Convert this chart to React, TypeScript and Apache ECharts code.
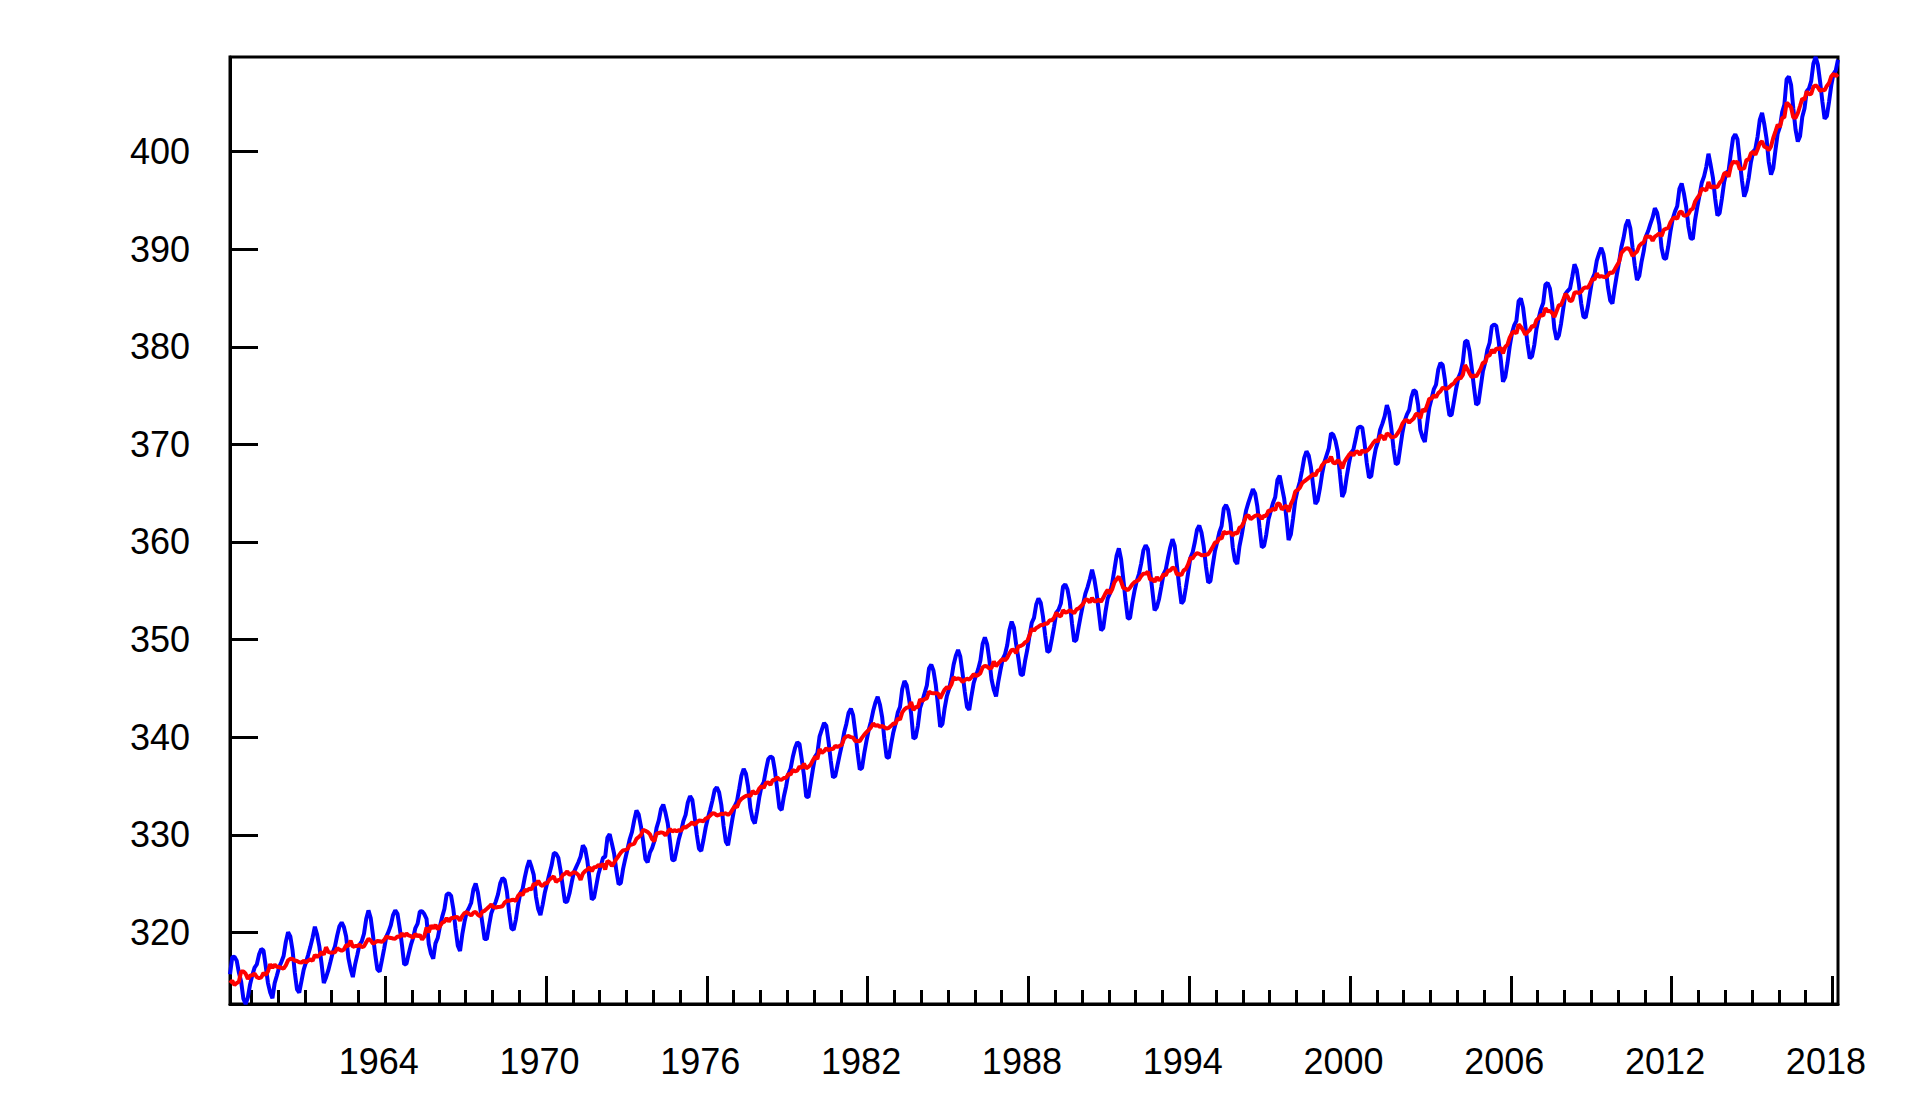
import React, { useEffect, useRef } from "react";
import * as echarts from "echarts";

// Mauna Loa monthly mean CO2 (ppm), starting March 1958
const startYear = 1958;
const startMonth = 3;

const mean1958_1969 = [
  315.71, 317.45, 317.5, 317.1, 315.86, 314.93, 313.2, 312.66, 313.33, 314.67,
  315.62, 316.38, 316.71, 317.72, 318.29, 318.15, 316.54, 314.8, 313.84, 313.26, 314.8, 315.58,
  316.43, 316.97, 317.58, 319.02, 320.03, 319.59, 318.18, 315.91, 314.16, 313.83, 315.0, 316.19,
  316.93, 317.7, 318.54, 319.48, 320.58, 319.77, 318.57, 316.79, 314.8, 315.38, 316.1, 317.01,
  317.94, 318.56, 319.68, 320.63, 321.01, 320.55, 319.58, 317.4, 316.26, 315.42, 316.69, 317.69,
  318.74, 319.08, 319.86, 321.39, 322.25, 321.47, 319.74, 317.77, 316.21, 315.99, 317.12, 318.31,
  319.57, 320.07, 320.73, 321.77, 322.25, 321.89, 320.44, 318.7, 316.7, 316.79, 317.79, 318.71,
  319.44, 320.44, 320.89, 322.13, 322.16, 321.87, 321.39, 318.81, 317.81, 317.3, 318.87, 319.42,
  320.62, 321.59, 322.39, 323.87, 324.01, 323.75, 322.39, 320.37, 318.64, 318.1, 319.79, 321.08,
  322.07, 322.5, 323.04, 324.42, 325.0, 324.09, 322.55, 320.92, 319.31, 319.31, 320.72, 321.96,
  322.57, 323.15, 323.89, 325.02, 325.57, 325.36, 324.14, 322.03, 320.41, 320.25, 321.31, 322.84,
  324.0, 324.42, 325.64, 326.66, 327.38, 326.7, 325.89, 323.67, 322.38, 321.78, 322.85, 324.12,
];
const mean1970_1979 = [
  325.03, 325.99, 326.87, 328.13, 328.07, 327.66, 326.35, 324.69, 323.1, 323.16, 323.98, 325.13,
  326.17, 326.68, 327.18, 327.78, 328.92, 328.57, 327.34, 325.46, 323.36, 323.57, 324.8, 326.01,
  326.77, 327.63, 327.75, 329.72, 330.07, 329.09, 328.05, 326.32, 324.93, 325.06, 326.5, 327.55,
  328.54, 329.56, 330.3, 331.5, 332.48, 332.07, 330.87, 329.31, 327.51, 327.18, 328.16, 328.64,
  329.35, 330.71, 331.48, 332.65, 333.09, 332.25, 331.18, 329.39, 327.43, 327.37, 328.46, 329.57,
  330.4, 331.4, 332.04, 333.31, 333.96, 333.59, 331.91, 330.06, 328.56, 328.34, 329.49, 330.76,
  331.75, 332.56, 333.5, 334.58, 334.87, 334.34, 333.05, 330.94, 329.3, 328.94, 330.31, 331.68,
  332.93, 333.42, 334.7, 336.07, 336.74, 336.27, 334.93, 332.75, 331.58, 331.16, 332.4, 333.85,
  334.97, 335.39, 336.64, 337.76, 338.01, 337.89, 336.54, 334.68, 332.76, 332.54, 333.92, 334.95,
  336.23, 336.76, 337.96, 338.89, 339.47, 339.29, 337.73, 336.09, 333.91, 333.86, 335.29, 336.73,
];
const mean1980_1989 = [
  338.01, 338.36, 340.08, 340.77, 341.46, 341.17, 339.56, 337.6, 335.88, 336.01, 337.1, 338.21,
  339.23, 340.47, 341.38, 342.51, 342.91, 342.25, 340.49, 338.43, 336.69, 336.85, 338.36, 339.61,
  340.75, 341.61, 342.7, 343.56, 344.13, 343.35, 342.06, 339.82, 337.97, 337.86, 339.26, 340.49,
  341.38, 342.52, 343.1, 344.94, 345.75, 345.32, 343.99, 342.39, 339.86, 339.99, 341.16, 342.99,
  343.7, 344.5, 345.28, 347.06, 347.43, 346.8, 345.39, 343.28, 341.07, 341.35, 342.98, 344.22,
  344.97, 345.99, 347.42, 348.35, 348.93, 348.25, 346.56, 344.67, 343.09, 342.8, 344.24, 345.56,
  346.29, 346.96, 347.86, 349.55, 350.21, 349.54, 347.94, 345.91, 344.86, 344.17, 345.66, 346.9,
  348.02, 348.47, 349.42, 350.99, 351.84, 351.25, 349.52, 348.1, 346.44, 346.36, 347.81, 348.96,
  350.43, 351.72, 352.22, 353.59, 354.22, 353.79, 352.39, 350.44, 348.72, 348.88, 350.07, 351.34,
  352.76, 353.07, 353.68, 355.42, 355.67, 355.13, 353.9, 351.67, 349.8, 349.99, 351.3, 352.52,
];
const mean1990_1999 = [
  353.66, 354.7, 355.38, 356.2, 357.16, 356.22, 354.82, 352.91, 350.96, 351.18, 352.83, 354.21,
  354.72, 355.75, 357.16, 358.6, 359.34, 358.24, 356.17, 354.02, 352.15, 352.21, 353.75, 354.99,
  355.99, 356.72, 357.81, 359.15, 359.66, 359.25, 357.02, 355.0, 353.01, 353.31, 354.16, 355.4,
  356.7, 357.17, 358.38, 359.46, 360.28, 359.6, 357.57, 355.52, 353.7, 353.98, 355.33, 356.8,
  358.36, 358.91, 359.97, 361.26, 361.68, 360.95, 359.55, 357.49, 355.84, 356.0, 357.58, 359.04,
  359.97, 361.0, 361.64, 363.45, 363.79, 363.26, 361.9, 359.46, 358.06, 357.75, 359.56, 360.7,
  362.05, 363.25, 364.03, 364.72, 365.41, 364.97, 363.65, 361.49, 359.46, 359.6, 360.76, 362.33,
  363.18, 364.0, 364.57, 366.35, 366.79, 365.62, 364.47, 362.51, 360.19, 360.77, 362.43, 364.28,
  365.32, 366.15, 367.31, 368.61, 369.29, 368.87, 367.64, 365.77, 363.9, 364.23, 365.46, 366.97,
  368.15, 368.87, 369.59, 371.14, 371.0, 370.35, 369.27, 366.94, 364.63, 365.12, 366.67, 368.01,
];
const mean2000_2009 = [
  369.14, 369.46, 370.52, 371.66, 371.82, 371.7, 370.12, 368.12, 366.62, 366.73, 368.29, 369.53,
  370.28, 371.5, 372.12, 372.87, 374.02, 373.3, 371.62, 369.55, 367.96, 368.09, 369.68, 371.24,
  372.44, 373.08, 373.52, 374.85, 375.55, 375.4, 374.02, 371.48, 370.71, 370.25, 372.08, 373.78,
  374.68, 375.63, 376.11, 377.65, 378.35, 378.13, 376.62, 374.5, 372.99, 373.01, 374.35, 375.7,
  376.79, 377.37, 378.41, 380.52, 380.63, 379.57, 377.79, 375.86, 374.06, 374.24, 375.86, 377.48,
  378.37, 379.69, 380.41, 382.1, 382.28, 382.13, 380.66, 378.71, 376.42, 376.88, 378.32, 380.04,
  381.38, 382.2, 382.66, 384.69, 384.94, 384.01, 382.14, 380.31, 378.81, 379.03, 380.17, 381.85,
  382.94, 383.86, 384.49, 386.37, 386.54, 385.98, 384.36, 381.85, 380.74, 381.15, 382.38, 383.94,
  385.44, 385.73, 385.97, 387.16, 388.45, 387.89, 386.39, 384.45, 383.09, 382.99, 384.13, 385.56,
  386.94, 387.48, 388.82, 389.55, 390.14, 389.48, 388.03, 386.11, 384.74, 384.43, 386.02, 387.42,
];
const mean2010_2018 = [
  388.71, 390.2, 391.17, 392.46, 393.0, 392.15, 390.2, 388.35, 386.85, 387.24, 388.67, 389.79,
  391.33, 391.86, 392.6, 393.25, 394.19, 393.74, 392.51, 390.13, 389.08, 389.0, 390.28, 391.86,
  393.12, 393.86, 394.4, 396.18, 396.74, 395.71, 394.36, 392.39, 391.11, 391.05, 392.98, 394.34,
  395.55, 396.8, 397.43, 398.41, 399.78, 398.6, 397.32, 395.2, 393.45, 393.7, 395.16, 396.84,
  397.85, 398.01, 399.77, 401.38, 401.78, 401.25, 399.1, 397.03, 395.38, 396.03, 397.28, 398.91,
  399.98, 400.28, 401.54, 403.28, 403.96, 402.8, 401.31, 398.93, 397.63, 398.29, 400.16, 401.85,
  402.52, 404.04, 404.83, 407.42, 407.7, 406.81, 404.39, 402.25, 401.03, 401.57, 403.53, 404.42,
  406.17, 406.46, 407.22, 409.04, 409.69, 408.88, 407.12, 405.13, 403.37, 403.63, 405.12, 406.81,
  407.96, 408.32, 409.41,
];

// Seasonally corrected trend (ppm), same months
const trend1958_1969 = [
  314.8, 315.05, 314.6, 314.8, 314.96, 316.0, 316.0, 315.76, 315.23, 315.57,
  315.62, 315.78, 315.41, 315.32, 315.39, 315.85, 315.64, 316.0, 316.74, 316.36, 316.7, 316.48,
  316.43, 316.37, 316.28, 316.62, 317.13, 317.29, 317.28, 317.11, 317.06, 316.93, 316.9, 317.09,
  316.93, 317.1, 317.24, 317.08, 317.68, 317.47, 317.67, 317.99, 317.7, 318.48, 318.0, 317.91,
  317.94, 317.96, 318.38, 318.23, 318.11, 318.25, 318.68, 318.6, 319.16, 318.52, 318.59, 318.59,
  318.74, 318.48, 318.56, 318.99, 319.35, 319.17, 318.84, 318.97, 319.11, 319.09, 319.02, 319.21,
  319.57, 319.47, 319.43, 319.37, 319.35, 319.59, 319.54, 319.9, 319.6, 319.89, 319.69, 319.61,
  319.44, 319.84, 319.59, 319.73, 319.26, 319.57, 320.49, 320.01, 320.71, 320.4, 320.77, 320.32,
  320.62, 320.99, 321.09, 321.47, 321.11, 321.45, 321.49, 321.57, 321.54, 321.2, 321.69, 321.98,
  322.07, 321.9, 321.74, 322.02, 322.1, 321.79, 321.65, 322.12, 322.21, 322.41, 322.62, 322.86,
  322.57, 322.55, 322.59, 322.62, 322.67, 323.06, 323.24, 323.23, 323.31, 323.35, 323.21, 323.74,
  324.0, 323.82, 324.34, 324.26, 324.48, 324.4, 324.99, 324.87, 325.28, 324.88, 324.75, 325.02,
];
const trend1970_1979 = [
  325.03, 325.39, 325.57, 325.73, 325.17, 325.36, 325.45, 325.89, 326.0, 326.26, 325.88, 326.03,
  326.17, 326.08, 325.88, 325.38, 326.02, 326.27, 326.44, 326.66, 326.26, 326.67, 326.7, 326.91,
  326.77, 327.03, 326.45, 327.32, 327.17, 326.79, 327.15, 327.52, 327.83, 328.16, 328.4, 328.45,
  328.54, 328.96, 329.0, 329.1, 329.58, 329.77, 329.97, 330.51, 330.41, 330.28, 330.06, 329.54,
  329.35, 330.11, 330.18, 330.25, 330.19, 329.95, 330.28, 330.59, 330.33, 330.47, 330.36, 330.47,
  330.4, 330.8, 330.74, 330.91, 331.06, 331.29, 331.01, 331.26, 331.46, 331.44, 331.39, 331.66,
  331.75, 331.96, 332.2, 332.18, 331.97, 332.04, 332.15, 332.14, 332.2, 332.04, 332.21, 332.58,
  332.93, 332.82, 333.4, 333.67, 333.84, 333.97, 334.03, 333.95, 334.48, 334.26, 334.3, 334.75,
  334.97, 334.79, 335.34, 335.36, 335.11, 335.59, 335.64, 335.88, 335.66, 335.64, 335.82, 335.85,
  336.23, 336.16, 336.66, 336.49, 336.57, 336.99, 336.83, 337.29, 336.81, 336.96, 337.19, 337.63,
];
const trend1980_1989 = [
  338.01, 337.76, 338.78, 338.37, 338.56, 338.87, 338.66, 338.8, 338.78, 339.11, 339.0, 339.11,
  339.23, 339.87, 340.08, 340.11, 340.01, 339.95, 339.59, 339.63, 339.59, 339.95, 340.26, 340.51,
  340.75, 341.01, 341.4, 341.16, 341.23, 341.05, 341.16, 341.02, 340.87, 340.96, 341.16, 341.39,
  341.38, 341.92, 341.8, 342.54, 342.85, 343.02, 343.09, 343.59, 342.76, 343.09, 343.06, 343.89,
  343.7, 343.9, 343.98, 344.66, 344.53, 344.5, 344.49, 344.48, 343.97, 344.45, 344.88, 345.12,
  344.97, 345.39, 346.12, 345.95, 346.03, 345.95, 345.66, 345.87, 345.99, 345.9, 346.14, 346.46,
  346.29, 346.36, 346.56, 347.15, 347.31, 347.24, 347.04, 347.11, 347.76, 347.27, 347.56, 347.8,
  348.02, 347.87, 348.12, 348.59, 348.94, 348.95, 348.62, 349.3, 349.34, 349.46, 349.71, 349.86,
  350.43, 351.12, 350.92, 351.19, 351.32, 351.49, 351.49, 351.64, 351.62, 351.98, 351.97, 352.24,
  352.76, 352.47, 352.38, 353.02, 352.77, 352.83, 353.0, 352.87, 352.7, 353.09, 353.2, 353.42,
];
const trend1990_1999 = [
  353.66, 354.1, 354.08, 353.8, 354.26, 353.92, 353.92, 354.11, 353.86, 354.28, 354.73, 355.11,
  354.72, 355.15, 355.86, 356.2, 356.44, 355.94, 355.27, 355.22, 355.05, 355.31, 355.65, 355.89,
  355.99, 356.12, 356.51, 356.75, 356.76, 356.95, 356.12, 356.2, 355.91, 356.41, 356.06, 356.3,
  356.7, 356.57, 357.08, 357.06, 357.38, 357.3, 356.67, 356.72, 356.6, 357.08, 357.23, 357.7,
  358.36, 358.31, 358.67, 358.86, 358.78, 358.65, 358.65, 358.69, 358.74, 359.1, 359.48, 359.94,
  359.97, 360.4, 360.34, 361.05, 360.89, 360.96, 361.0, 360.66, 360.96, 360.85, 361.46, 361.6,
  362.05, 362.65, 362.73, 362.32, 362.51, 362.67, 362.75, 362.69, 362.36, 362.7, 362.66, 363.23,
  363.18, 363.4, 363.27, 363.95, 363.89, 363.32, 363.57, 363.71, 363.09, 363.87, 364.33, 365.18,
  365.32, 365.55, 366.01, 366.21, 366.39, 366.57, 366.74, 366.97, 366.8, 367.33, 367.36, 367.87,
  368.15, 368.27, 368.29, 368.74, 368.1, 368.05, 368.37, 368.14, 367.53, 368.22, 368.57, 368.91,
];
const trend2000_2009 = [
  369.14, 368.86, 369.22, 369.26, 368.92, 369.4, 369.22, 369.32, 369.52, 369.83, 370.19, 370.43,
  370.28, 370.9, 370.82, 370.47, 371.12, 371.0, 370.72, 370.75, 370.86, 371.19, 371.58, 372.14,
  372.44, 372.48, 372.22, 372.45, 372.65, 373.1, 373.12, 372.68, 373.61, 373.35, 373.98, 374.68,
  374.68, 375.03, 374.81, 375.25, 375.45, 375.83, 375.72, 375.7, 375.89, 376.11, 376.25, 376.6,
  376.79, 376.77, 377.11, 378.12, 377.73, 377.27, 376.89, 377.06, 376.96, 377.34, 377.76, 378.38,
  378.37, 379.09, 379.11, 379.7, 379.38, 379.83, 379.76, 379.91, 379.32, 379.98, 380.22, 380.94,
  381.38, 381.6, 381.36, 382.29, 382.04, 381.71, 381.24, 381.51, 381.71, 382.13, 382.07, 382.75,
  382.94, 383.26, 383.19, 383.97, 383.64, 383.68, 383.46, 383.05, 383.64, 384.25, 384.28, 384.84,
  385.44, 385.13, 384.67, 384.76, 385.55, 385.59, 385.49, 385.65, 385.99, 386.09, 386.03, 386.46,
  386.94, 386.88, 387.52, 387.15, 387.24, 387.18, 387.13, 387.31, 387.64, 387.53, 387.92, 388.32,
];
const trend2010_2018 = [
  388.71, 389.6, 389.87, 390.06, 390.1, 389.85, 389.3, 389.55, 389.75, 390.34, 390.57, 390.69,
  391.33, 391.26, 391.3, 390.85, 391.29, 391.44, 391.61, 391.33, 391.98, 392.1, 392.18, 392.76,
  393.12, 393.26, 393.1, 393.78, 393.84, 393.41, 393.46, 393.59, 394.01, 394.15, 394.88, 395.24,
  395.55, 396.2, 396.13, 396.01, 396.88, 396.3, 396.42, 396.4, 396.35, 396.8, 397.06, 397.74,
  397.85, 397.41, 398.47, 398.98, 398.88, 398.95, 398.2, 398.23, 398.28, 399.13, 399.18, 399.81,
  399.98, 399.68, 400.24, 400.88, 401.06, 400.5, 400.41, 400.13, 400.53, 401.39, 402.06, 402.75,
  402.52, 403.44, 403.53, 405.02, 404.8, 404.51, 403.49, 403.45, 403.93, 404.67, 405.43, 405.32,
  406.17, 405.86, 405.92, 406.64, 406.79, 406.58, 406.22, 406.33, 406.27, 406.73, 407.02, 407.71,
  407.96, 407.72, 407.95,
];

const yTicks = [320, 330, 340, 350, 360, 370, 380, 390, 400];
const xMajorTicks = [1964, 1970, 1976, 1982, 1988, 1994, 2000, 2006, 2012, 2018];
const xMinorTicks = [
  1959, 1960, 1961, 1962, 1963, 1965, 1966, 1967, 1968, 1969, 1971, 1972, 1973, 1974, 1975,
  1977, 1978, 1979, 1980, 1981, 1983, 1984, 1985, 1986, 1987, 1989, 1990, 1991, 1992, 1993,
  1995, 1996, 1997, 1998, 1999, 2001, 2002, 2003, 2004, 2005, 2007, 2008, 2009, 2010, 2011,
  2013, 2014, 2015, 2016, 2017,
];

const FONT = "'Liberation Sans', Arial, Helvetica, sans-serif";

function toPoints(vals: number[]): number[][] {
  return vals.map((v, i) => {
    const m = startMonth - 1 + i;
    const year = startYear + Math.floor(m / 12);
    const month = (m % 12) + 1;
    return [year + (month - 0.5) / 12, v];
  });
}

export default function App() {
  const ref = useRef<HTMLDivElement>(null);
  useEffect(() => {
    if (!ref.current) return;
    const chart = echarts.init(ref.current, null, { renderer: "svg" });
    const mean = [
      ...mean1958_1969, ...mean1970_1979, ...mean1980_1989,
      ...mean1990_1999, ...mean2000_2009, ...mean2010_2018,
    ];
    const trend = [
      ...trend1958_1969, ...trend1970_1979, ...trend1980_1989,
      ...trend1990_1999, ...trend2000_2009, ...trend2010_2018,
    ];
    const meanPts = toPoints(mean);
    const trendPts = toPoints(trend);
    const xMin = meanPts[0][0];
    const xMax = meanPts[meanPts.length - 1][0];
    const yMin = Math.min(...mean);
    const yMax = Math.max(...mean);
    const tickStyle = { color: "#000", width: 3 };

    chart.setOption({
      animation: false,
      backgroundColor: "#fff",
      grid: {
        left: 230,
        right: 82,
        top: 57,
        bottom: 115,
        show: true,
        borderColor: "#000",
        borderWidth: 3,
        backgroundColor: "transparent",
        outerBoundsMode: "none",
      },
      xAxis: [
        {
          type: "value",
          min: xMin,
          max: xMax,
          position: "bottom",
          axisLine: { show: true, onZero: false, lineStyle: tickStyle },
          axisTick: {
            show: true,
            inside: true,
            length: 28,
            lineStyle: tickStyle,
            customValues: xMajorTicks,
          },
          axisLabel: {
            show: true,
            customValues: xMajorTicks,
            color: "#000",
            fontSize: 36,
            fontFamily: FONT,
            margin: 39,
            padding: [0, 13, 0, 0],
            formatter: (v: number) => String(Math.round(v)),
          },
          splitLine: { show: false },
        },
        {
          type: "value",
          min: xMin,
          max: xMax,
          position: "bottom",
          offset: 0,
          axisLine: { show: false, onZero: false },
          axisTick: {
            show: true,
            inside: true,
            length: 14,
            lineStyle: tickStyle,
            customValues: xMinorTicks,
          },
          axisLabel: { show: false },
          splitLine: { show: false },
        },
      ],
      yAxis: {
        type: "value",
        min: yMin,
        max: yMax,
        axisLine: { show: true, onZero: false, lineStyle: tickStyle },
        axisTick: {
          show: true,
          inside: true,
          length: 28,
          lineStyle: tickStyle,
          customValues: yTicks,
        },
        axisLabel: {
          show: true,
          customValues: yTicks,
          color: "#000",
          fontSize: 36,
          fontFamily: FONT,
          margin: 40,
          formatter: (v: number) => String(Math.round(v)),
        },
        splitLine: { show: false },
      },
      series: [
        {
          name: "Monthly mean",
          type: "line",
          xAxisIndex: 0,
          data: meanPts,
          showSymbol: false,
          symbol: "none",
          clip: false,
          lineStyle: { color: "#0000ff", width: 4 },
          z: 3,
        },
        {
          name: "Trend",
          type: "line",
          xAxisIndex: 0,
          data: trendPts,
          showSymbol: false,
          symbol: "none",
          clip: false,
          lineStyle: { color: "#ff0000", width: 4 },
          z: 4,
        },
      ],
    });
    return () => chart.dispose();
  }, []);
  return (
    <div
      ref={ref}
      style={{ position: "fixed", left: 0, top: 0, width: 1920, height: 1119, background: "#fff" }}
    />
  );
}
